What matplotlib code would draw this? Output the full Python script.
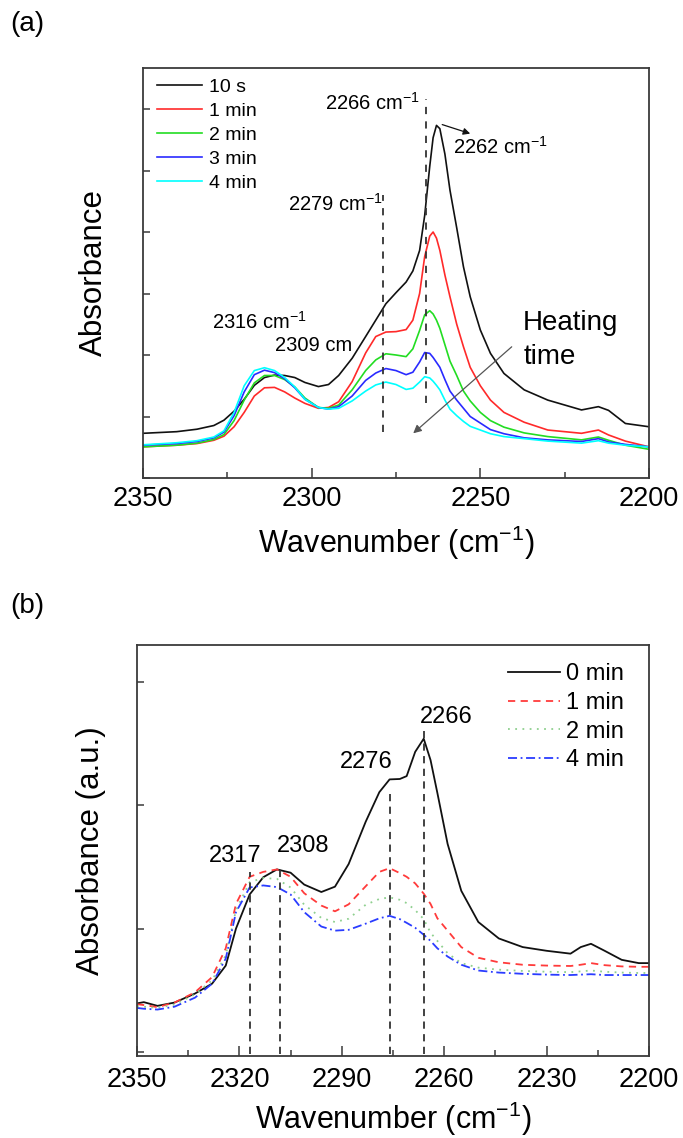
import matplotlib
matplotlib.use("Agg")
import matplotlib.pyplot as plt
from matplotlib.ticker import FixedLocator, NullFormatter

plt.rcParams['font.family'] = ['Liberation Sans', 'DejaVu Sans']
plt.rcParams['mathtext.fontset'] = 'custom'
plt.rcParams['mathtext.rm'] = 'Liberation Sans'
plt.rcParams['mathtext.it'] = 'Liberation Sans:italic'
plt.rcParams['mathtext.bf'] = 'Liberation Sans:bold'

# ---------------- Panel (a) data ----------------
wn_a = [2350, 2340, 2334, 2329, 2326, 2323, 2320, 2317, 2314, 2311, 2308, 2305, 2302, 2298,
        2295, 2292, 2288, 2284, 2281, 2278, 2275, 2272, 2270, 2268, 2266.5, 2265, 2264, 2263,
        2262, 2260.5, 2259, 2257, 2255, 2253, 2250, 2247, 2243, 2237, 2230, 2220, 2215, 2212,
        2207, 2200]
a_10s = [.109, .113, .119, .128, .141, .163, .192, .226, .245, .251, .250, .245, .233, .223,
         .228, .250, .292, .345, .385, .425, .452, .478, .505, .555, .640, .760, .830, .860,
         .852, .790, .702, .610, .515, .442, .361, .304, .255, .215, .190, .166, .174, .165,
         .133, .125]
a_1min = [.076, .080, .084, .092, .102, .125, .160, .200, .220, .221, .210, .195, .182, .170,
          .172, .186, .235, .305, .345, .356, .357, .362, .385, .450, .540, .590, .600, .585,
          .555, .495, .442, .375, .320, .270, .225, .190, .160, .136, .117, .109, .117, .105,
          .090, .076]
a_2min = [.076, .080, .085, .094, .106, .140, .190, .232, .250, .250, .240, .222, .195, .172,
          .170, .178, .215, .262, .288, .303, .300, .296, .315, .360, .398, .408, .400, .385,
          .365, .325, .285, .250, .212, .188, .160, .140, .124, .110, .101, .093, .100, .092,
          .080, .070]
a_3min = [.080, .084, .089, .098, .112, .152, .210, .252, .263, .257, .242, .220, .192, .172,
          .168, .174, .200, .238, .256, .267, .262, .252, .258, .283, .306, .304, .294, .282,
          .270, .240, .212, .190, .170, .150, .134, .118, .108, .098, .093, .089, .096, .088,
          .082, .076]
a_4min = [.081, .086, .091, .100, .115, .160, .225, .262, .269, .262, .245, .222, .192, .172,
          .168, .170, .188, .212, .227, .234, .228, .216, .219, .234, .247, .244, .236, .226,
          .215, .190, .168, .152, .138, .126, .117, .108, .101, .096, .090, .085, .091, .085,
          .080, .076]
labels_a = ['10 s', '1 min', '2 min', '3 min', '4 min']
colors_a = ['#111111', '#ff2a2a', '#22dd22', '#2a2aff', '#00ffff']

# ---------------- Panel (b) data ----------------
wn_b = [2350, 2348, 2344, 2339, 2333, 2328, 2324, 2321, 2317, 2313, 2309, 2305, 2301, 2296,
        2292, 2288, 2283, 2279, 2276, 2273, 2271, 2268.5, 2266, 2264, 2262, 2259, 2255, 2250,
        2244, 2237, 2230, 2223, 2220, 2217, 2213, 2208, 2203, 2200]
b_0min = [.128, .131, .122, .130, .152, .176, .220, .310, .393, .435, .454, .446, .417, .399,
          .412, .467, .570, .642, .673, .674, .681, .740, .772, .720, .640, .516, .402, .326,
          .286, .265, .256, .249, .265, .273, .256, .234, .226, .226]
b_1min = [.126, .124, .119, .130, .155, .192, .262, .370, .436, .448, .454, .436, .396, .366,
          .352, .369, .413, .448, .457, .445, .436, .420, .395, .370, .335, .305, .265, .239,
          .228, .222, .220, .219, .222, .226, .221, .218, .217, .217]
b_2min = [.122, .120, .117, .125, .150, .184, .245, .355, .423, .433, .431, .410, .368, .336,
          .326, .334, .368, .382, .386, .380, .372, .355, .333, .300, .280, .250, .226, .215,
          .210, .207, .205, .204, .206, .208, .205, .203, .202, .202]
b_4min = [.117, .115, .113, .120, .142, .176, .237, .350, .410, .415, .411, .393, .350, .315,
          .305, .307, .322, .335, .341, .333, .324, .312, .295, .280, .262, .242, .222, .208,
          .203, .200, .198, .197, .198, .199, .197, .197, .197, .197]
labels_b = ['0 min', '1 min', '2 min', '4 min']
colors_b = ['#111111', '#ff3b3b', '#8fd08f', '#2a3cff']
styles_b = ['-', (0, (4, 3)), (0, (1, 3)), (0, (5, 2, 1, 2))]

peaks_a = [2279, 2266]
peaks_b = [2317, 2308, 2276, 2266]

xticks_a = [2350, 2300, 2250, 2200]
xminor_a = [2325, 2275, 2225]
xticks_b = [2350, 2320, 2290, 2260, 2230, 2200]
xminor_b = [2335, 2305, 2275, 2245, 2215]

fig = plt.figure(figsize=(6.83, 11.38), dpi=100)

SPINE = '#3a3a3a'

def style_axes(ax, major, minor, yticks, pad):
    for s in ax.spines.values():
        s.set_color(SPINE)
        s.set_linewidth(1.3)
    ax.xaxis.set_major_locator(FixedLocator(major))
    ax.xaxis.set_minor_locator(FixedLocator(minor))
    ax.set_yticks(yticks)
    ax.yaxis.set_major_formatter(NullFormatter())
    ax.tick_params(axis='x', which='major', direction='in', length=7, width=1.1,
                   color=SPINE, labelsize=19.5, pad=pad, top=False)
    ax.tick_params(axis='x', which='minor', direction='in', length=4, width=1.1,
                   color=SPINE, top=False)
    ax.tick_params(axis='y', which='major', direction='in', length=5, width=1.1,
                   color=SPINE, right=False)
    ax.tick_params(axis='y', which='minor', left=False, right=False)

# ---------------- Panel (a) ----------------
ax1 = fig.add_axes([143/683, 1-478/1138, 506/683, 410/1138])
series_a = [a_10s, a_1min, a_2min, a_3min, a_4min]
for y, lab, c in zip(series_a, labels_a, colors_a):
    ax1.plot(wn_a, y, color=c, lw=1.2, label=lab)
ax1.set_xlim(2350, 2200)
ax1.set_ylim(0, 1)
style_axes(ax1, xticks_a, xminor_a, [0, .15, .30, .45, .60, .75, .90], 6)

ax1.vlines(peaks_a[0], 0.113, 0.69, colors='#333333', linestyles=(0, (4, 4)), lw=1.3)
ax1.vlines(peaks_a[1], 0.183, 0.925, colors='#333333', linestyles=(0, (4, 4)), lw=1.3)

fs_ann = 14.5
ax1.text(2268.0, 0.915, '2266 cm$^{-1}$', ha='right', va='center', fontsize=fs_ann)
ax1.text(2279.0, 0.668, '2279 cm$^{-1}$', ha='right', va='center', fontsize=fs_ann)
ax1.text(2258.0, 0.808, '2262 cm$^{-1}$', ha='left', va='center', fontsize=fs_ann)
ax1.text(2329.6, 0.381, '2316 cm$^{-1}$', ha='left', va='center', fontsize=fs_ann)
ax1.text(2310.9, 0.322, '2309 cm', ha='left', va='center', fontsize=fs_ann)
ax1.annotate('', xy=(2253.0, 0.840), xytext=(2261.3, 0.862),
             arrowprops=dict(arrowstyle='-|>', color='#111111', lw=0.9,
                             mutation_scale=10, shrinkA=0, shrinkB=0))
ax1.annotate('', xy=(2269.9, 0.109), xytext=(2240.7, 0.320),
             arrowprops=dict(arrowstyle='-|>', color='#555555', lw=0.9,
                             mutation_scale=12, shrinkA=0, shrinkB=0))
ax1.text(2237.3, 0.378, 'Heating', ha='left', va='center', fontsize=20)
ax1.text(2237.3, 0.295, 'time', ha='left', va='center', fontsize=20)

ax1.legend(loc='upper left', bbox_to_anchor=(0.028, 0.975), frameon=False,
           fontsize=14, handlelength=2.3, handletextpad=0.35, labelspacing=0.33,
           borderpad=0, borderaxespad=0)

ax1.set_xlabel('Wavenumber (cm$^{-1}$)', fontsize=22)
ax1.xaxis.set_label_coords(0.5, -0.112)
ax1.set_ylabel('Absorbance', fontsize=22.5)
ax1.yaxis.set_label_coords(-0.067, 0.5)

# ---------------- Panel (b) ----------------
ax2 = fig.add_axes([137/683, 1-1056/1138, 512/683, 411/1138])
series_b = [b_0min, b_1min, b_2min, b_4min]
for y, lab, c, ls in zip(series_b, labels_b, colors_b, styles_b):
    ax2.plot(wn_b, y, color=c, lw=1.3, ls=ls, label=lab)
ax2.set_xlim(2350, 2200)
ax2.set_ylim(0, 1)
style_axes(ax2, xticks_b, xminor_b, [0.01, 0.31, 0.61, 0.91], 8)

tops_b = [0.447, 0.46, 0.647, 0.79]
for p, t in zip(peaks_b, tops_b):
    ax2.vlines(p, 0.005, t, colors='#333333', linestyles=(0, (4, 3)), lw=1.3)

fs_b = 17
ax2.text(2321.3, 0.486, '2317', ha='center', va='center', fontsize=fs_b)
ax2.text(2301.3, 0.512, '2308', ha='center', va='center', fontsize=fs_b)
ax2.text(2282.8, 0.716, '2276', ha='center', va='center', fontsize=fs_b)
ax2.text(2259.5, 0.825, '2266', ha='center', va='center', fontsize=fs_b)

ax2.legend(loc='upper right', bbox_to_anchor=(0.95, 0.955), frameon=False,
           fontsize=17, handlelength=2.2, handletextpad=0.25, labelspacing=0.28,
           borderpad=0, borderaxespad=0)

ax2.set_xlabel('Wavenumber (cm$^{-1}$)', fontsize=22)
ax2.xaxis.set_label_coords(0.5, -0.107)
ax2.set_ylabel('Absorbance (a.u.)', fontsize=22.5)
ax2.yaxis.set_label_coords(-0.061, 0.5)

fig.text(10/683, 1-24/1138, '(a)', fontsize=20, ha='left', va='center')
fig.text(10/683, 1-606/1138, '(b)', fontsize=20, ha='left', va='center')

fig.savefig('out.png', dpi=100)
